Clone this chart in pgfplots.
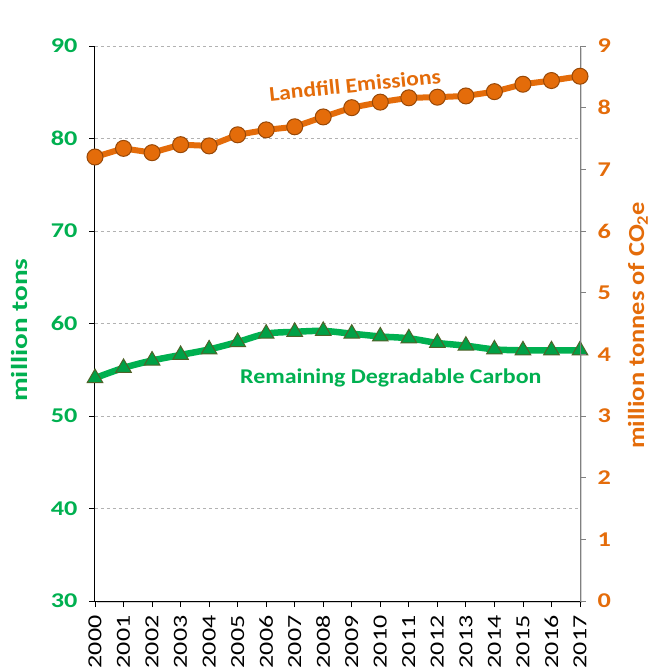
\documentclass[border=0pt]{standalone}
\usepackage{pgfplots}
\pgfplotsset{compat=1.18}
\usepackage{graphicx}
\usepackage{fontspec}
\setmainfont{Carlito}
\usetikzlibrary{shadows}
\definecolor{xgreen}{RGB}{0,176,80}
\definecolor{xgreenmk}{RGB}{0,160,70}
\definecolor{xgreenedge}{RGB}{79,98,40}
\definecolor{xorange}{RGB}{228,108,10}
\definecolor{xorangeedge}{RGB}{152,72,7}
\newcommand{\st}[2]{\scalebox{#1}[1]{#2}}
\begin{document}
\begin{tikzpicture}
\path[use as bounding box] (-95pt,-71pt) rectangle (558pt,601pt);
\begin{axis}[
  at={(0,0)}, anchor=south west,
  scale only axis, width=485pt, height=555pt,
  xmin=2000, xmax=2017, ymin=30, ymax=90,
  axis x line*=bottom, axis y line*=left,
  xtick={2000,...,2017}, ytick={30,40,...,90},
  xticklabel={\st{1.3}{\pgfmathprintnumber[1000 sep={},assume math mode=true]{\tick}}},
  yticklabel={\st{1.25}{\pgfmathprintnumber[assume math mode=true]{\tick}}},
  x tick label style={rotate=90, anchor=east, font=\fontsize{20}{20}\selectfont, text=black},
  y tick label style={font=\fontsize{21}{21}\selectfont\bfseries, text=xgreen},
  xticklabel shift=5pt, yticklabel shift=8pt,
  tick align=outside, major tick length=6pt,
  tick style={black, line width=0.8pt},
  axis line style={black, line width=1pt, -},
  ymajorgrids, major grid style={gray!60, dashed, line width=0.6pt},
  ylabel={\color{xgreen}\fontsize{23}{23}\selectfont\bfseries\st{1.27}{million tons}},
  every axis y label/.style={at={(axis description cs:-0.155,0.488)}, rotate=90, anchor=center},
  axis background/.style={fill=white, drop shadow={shadow xshift=2pt, shadow yshift=-2pt, opacity=0.35}},
  clip=false,
]
\addplot[xgreen, line width=6.5pt, smooth, mark=triangle*, mark size=9pt,
  mark options={fill=xgreenmk, draw=xgreenedge, line width=1pt, solid}]
coordinates {
(2000,54.1) (2001,55.2) (2002,56.0) (2003,56.6) (2004,57.2) (2005,58.0)
(2006,58.9) (2007,59.1) (2008,59.2) (2009,58.9) (2010,58.6) (2011,58.4)
(2012,57.9) (2013,57.6) (2014,57.2) (2015,57.1) (2016,57.1) (2017,57.1)
};
\node[text=xgreen, font=\fontsize{21}{21}\selectfont\bfseries] at (axis cs:2010.37,54.1) {\st{1.14}{Remaining Degradable Carbon}};
\end{axis}
\begin{axis}[
  at={(0,0)}, anchor=south west,
  scale only axis, width=485pt, height=555pt,
  xmin=2000, xmax=2017, ymin=0, ymax=9,
  axis x line=none, axis y line*=right,
  ytick={0,1,...,9},
  yticklabel={\st{1.25}{\pgfmathprintnumber[assume math mode=true]{\tick}}},
  y tick label style={font=\fontsize{21}{21}\selectfont\bfseries, text=xorange},
  yticklabel shift=8pt,
  tick align=outside, major tick length=6pt,
  tick style={gray, line width=0.8pt},
  axis line style={gray, line width=1pt, -},
  ylabel={\color{xorange}\fontsize{23}{23}\selectfont\bfseries\st{1.15}{million tonnes of CO\textsubscript{2}e}},
  every axis y label/.style={at={(axis description cs:1.1196,0.497)}, rotate=90, anchor=center},
  clip=false,
]
\addplot[xorange, line width=6pt, mark=*, mark size=8pt,
  mark options={fill=xorange, draw=xorangeedge, line width=1pt, solid}]
coordinates {
(2000,7.20) (2001,7.34) (2002,7.27) (2003,7.40) (2004,7.38) (2005,7.56)
(2006,7.64) (2007,7.69) (2008,7.85) (2009,8.00) (2010,8.09) (2011,8.16)
(2012,8.17) (2013,8.19) (2014,8.26) (2015,8.38) (2016,8.44) (2017,8.51)
};
\node[text=xorange, font=\fontsize{21}{21}\selectfont\bfseries, rotate=6] at (axis cs:2009.11,8.37) {\st{1.12}{Landfill Emissions}};
\end{axis}
\end{tikzpicture}
\end{document}
